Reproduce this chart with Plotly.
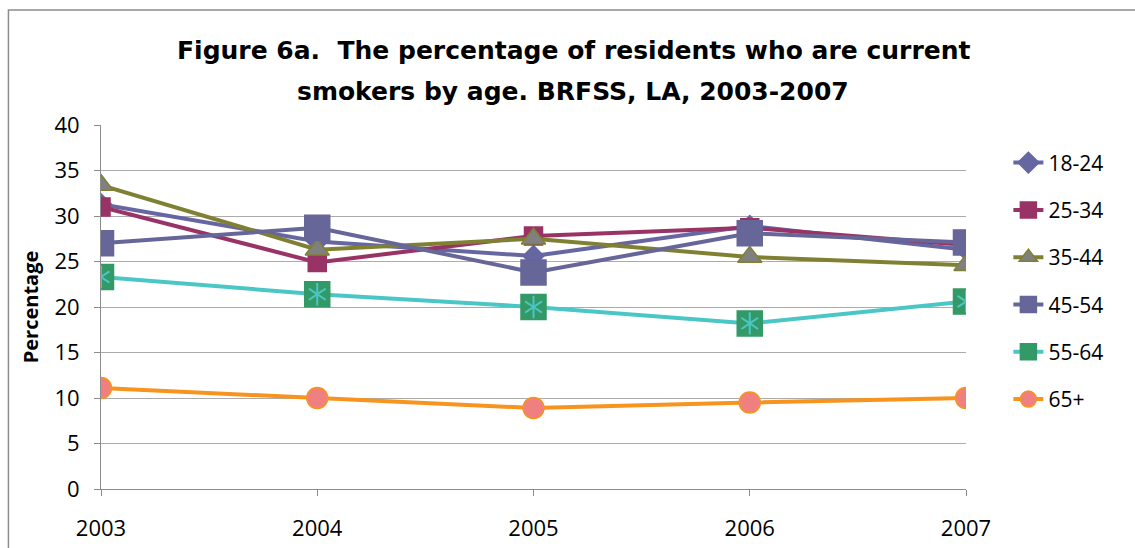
import plotly.graph_objects as go

years = [2003, 2004, 2005, 2006, 2007]
year_labels = ["2003", "2004", "2005", "2006", "2007"]

age_18_24 = [31.3, 27.2, 25.6, 28.9, 26.3]
age_25_34 = [31.0, 24.9, 27.8, 28.7, 26.8]
age_35_44 = [33.4, 26.3, 27.5, 25.5, 24.6]
age_45_54 = [27.0, 28.7, 23.8, 28.1, 27.1]
age_55_64 = [23.3, 21.4, 20.0, 18.2, 20.6]
age_65_up = [11.1, 10.0, 8.9, 9.5, 10.0]

series_names = ["18-24", "25-34", "35-44", "45-54", "55-64", "65+"]
series_values = [age_18_24, age_25_34, age_35_44, age_45_54, age_55_64, age_65_up]

title_lines = [
    "Figure 6a.  The percentage of residents who are current",
    "smokers by age. BRFSS, LA, 2003-2007",
]

# line colour, marker symbol, marker size, marker fill, marker outline
styles = [
    ("#6666A3", "diamond", 16, "#6666A3", "#6666A3"),
    ("#993366", "square", 18, "#993366", "#993366"),
    ("#808033", "triangle-up", 21, "#808080", "#808033"),
    ("#666699", "square", 25, "#666699", "#666699"),
    ("#4BC6C6", "square", 25, "#339966", "#339966"),
    ("#F7941D", "circle", 21, "#F08080", "#F7941D"),
]

fig = go.Figure()
for name, vals, (lc, sym, sz, fill, outline) in zip(series_names, series_values, styles):
    fig.add_trace(go.Scatter(
        x=years, y=vals, name=name, mode="lines+markers",
        legendgroup=name,
        line=dict(color=lc, width=4),
        marker=dict(symbol=sym, size=sz, color=fill,
                    line=dict(color=outline, width=1.5)),
    ))
    if name == "55-64":
        # asterisk drawn over the green squares
        for star in ("y-up-open", "y-down-open"):
            fig.add_trace(go.Scatter(
                x=years, y=vals, mode="markers", showlegend=False,
                legendgroup=name, hoverinfo="skip",
                marker=dict(symbol=star, size=14, color="#4BC6C6",
                            line=dict(color="#4BC6C6", width=2)),
            ))

fig.update_layout(
    width=1135, height=548,
    margin=dict(l=101, r=169, t=125, b=59, autoexpand=False),
    paper_bgcolor="white", plot_bgcolor="white",
    font=dict(family="Open Sans", color="black"),
    legend=dict(
        x=1.049, xanchor="left", y=0.952, yanchor="top",
        font=dict(size=21), tracegroupgap=17,
        bgcolor="rgba(0,0,0,0)",
    ),
    showlegend=True,
)

# two-line chart title
for text, ypos in zip(title_lines, (1.206, 1.091)):
    fig.add_annotation(
        text=f"<b>{text}</b>", xref="paper", yref="paper",
        x=0.546, y=ypos, xanchor="center", yanchor="middle", showarrow=False,
        font=dict(family="DejaVu Sans", size=25, color="black"),
    )

fig.update_xaxes(
    range=[2003, 2007], tickvals=years, ticktext=year_labels,
    showgrid=False, showline=True, linecolor="#8C8C8C", linewidth=1,
    ticks="outside", ticklen=6, tickcolor="#8C8C8C", automargin=False,
    tickfont=dict(size=22), ticklabelstandoff=14, zeroline=False,
)
fig.update_yaxes(
    range=[0, 40], dtick=5, tick0=0, automargin=False,
    showgrid=True, gridcolor="#ABABAB", gridwidth=1,
    showline=True, linecolor="#8C8C8C", linewidth=1,
    ticks="outside", ticklen=6, tickcolor="#8C8C8C",
    tickfont=dict(size=22), ticklabelstandoff=10, zeroline=False,
    title=dict(text="<b>Percentage</b>", font=dict(size=20), standoff=10),
)

# chart frame
fig.add_shape(type="rect", xref="paper", yref="paper",
              x0=-0.107, x1=2.0, y0=-1.0, y1=1.316,
              line=dict(color="#8C8C8C", width=1.5), fillcolor="rgba(0,0,0,0)",
              layer="below")

fig.write_html("out.html")
